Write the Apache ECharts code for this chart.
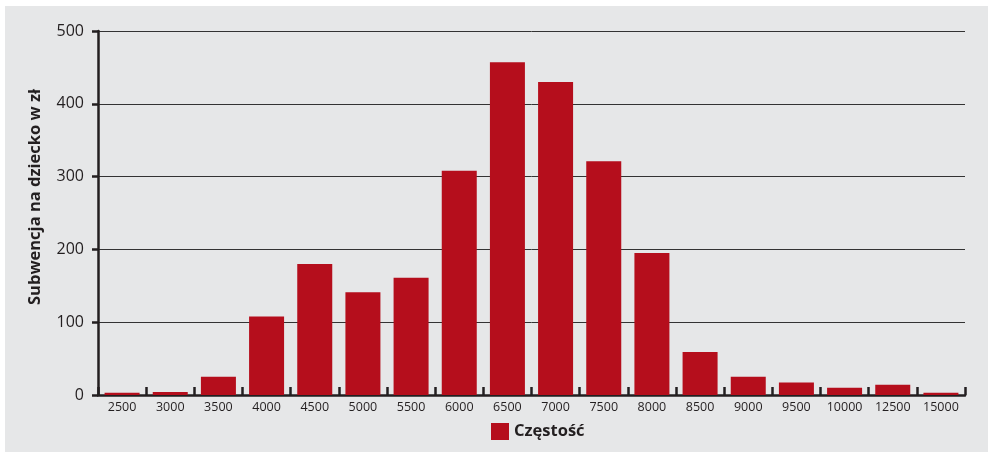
<!DOCTYPE html>
<html><head><meta charset="utf-8">
<script src="https://cdn.jsdelivr.net/npm/echarts@6/dist/echarts.min.js"></script>
<style>
html,body{margin:0;padding:0;background:#fff;}
#bg{position:absolute;left:5px;top:6px;width:983px;height:446px;background:#e6e7e8;}
#c{position:absolute;left:0;top:0;width:988px;height:456px;}
</style></head>
<body><div id="bg"></div><div id="c"></div>
<script>
const categories = ['2500','3000','3500','4000','4500','5000','5500','6000','6500','7000','7500','8000','8500','9000','9500','10000','12500','15000'];
const values = [3, 4, 25, 108, 180, 141, 161, 308, 457, 430, 321, 195, 59, 25, 17, 10, 14, 3];
const yTicks = [0, 100, 200, 300, 400, 500];
const seriesName = 'Częstość';
const yAxisName = 'Subwencja na dziecko w zł';

const chart = echarts.init(document.getElementById('c'), null, {renderer:'canvas'});
chart.setOption({
  backgroundColor: 'transparent',
  textStyle: {fontFamily: 'Open Sans'},
  grid: {left: 98, right: 23, top: 31, bottom: 61, containLabel: false},
  legend: {
    data: [seriesName], bottom: 11, left: 486,
    itemWidth: 18, itemHeight: 17, itemGap: 8,
    textStyle: {fontFamily: 'Open Sans', fontWeight: 'bold', fontSize: 16.5, color: '#231f20'},
    icon: 'rect'
  },
  xAxis: {
    type: 'category', data: categories,
    axisLine: {lineStyle: {color: '#231f20', width: 2.5}},
    axisTick: {show: true, inside: true, length: 8, lineStyle: {color: '#231f20', width: 2.5}},
    axisLabel: {color: '#231f20', fontSize: 12.5, margin: 6, interval: 0}
  },
  yAxis: {
    type: 'value', min: yTicks[0], max: yTicks[yTicks.length-1], interval: 100,
    name: yAxisName, nameLocation: 'middle', nameGap: 54, nameRotate: 90,
    nameTextStyle: {fontFamily: 'Open Sans', fontWeight: 'bold', fontSize: 16.5, color: '#231f20', padding: [0, 0, 0, 32]},
    axisLine: {show: true, lineStyle: {color: '#231f20', width: 2.5}},
    axisTick: {show: true, length: 6, lineStyle: {color: '#231f20', width: 2.5}},
    axisLabel: {color: '#231f20', fontSize: 16, margin: 14},
    splitLine: {lineStyle: {color: '#333333', width: 1}}
  },
  series: [{
    name: seriesName, type: 'bar', data: values,
    barWidth: 35,
    itemStyle: {color: '#b50e1c'},
    animation: false
  }],
  animation: false
});
</script></body></html>
